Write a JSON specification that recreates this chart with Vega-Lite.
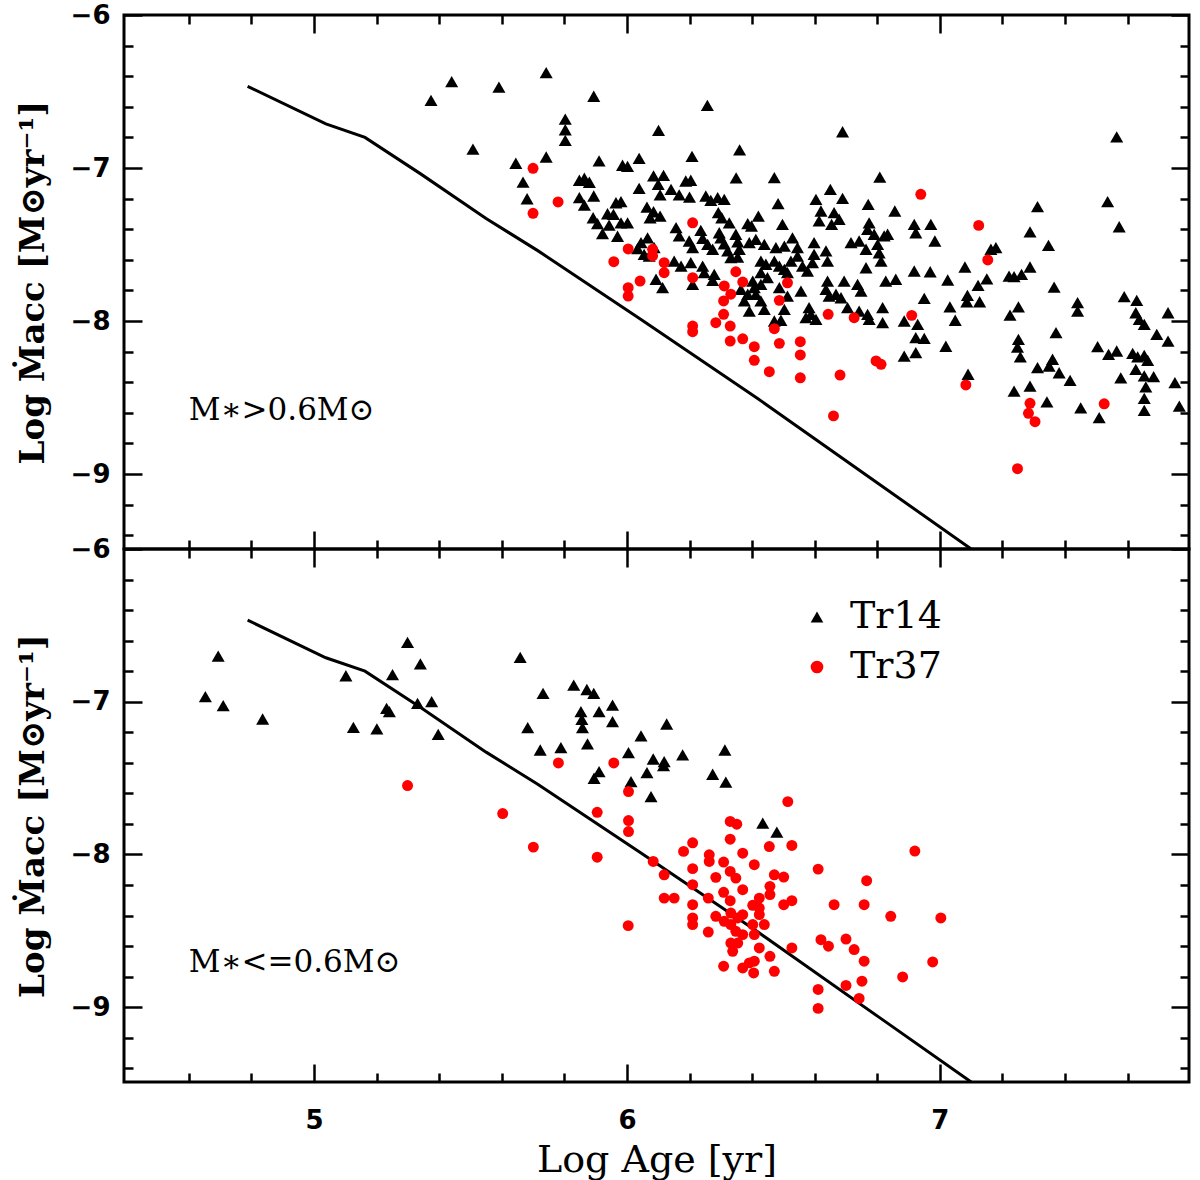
{
  "$schema": "https://vega.github.io/schema/vega-lite/v6.json",
  "background": "white",
  "padding": {"left": 14, "top": 0, "right": 10, "bottom": 5},
  "bounds": "flush",
  "spacing": 0,
  "datasets": {
    "track": [
      {"age": 4.788, "mdot": -6.466}, {"age": 5.038, "mdot": -6.712}, {"age": 5.163, "mdot": -6.8},
      {"age": 5.342, "mdot": -7.04}, {"age": 5.55, "mdot": -7.33}, {"age": 5.715, "mdot": -7.54},
      {"age": 6.045, "mdot": -7.99}, {"age": 6.42, "mdot": -8.51}, {"age": 6.812, "mdot": -9.075},
      {"age": 7.1, "mdot": -9.49}
    ],
    "hiNote": [{"age": 4.6, "mdot": -8.59, "note": "M∗>0.6M⊙"}],
    "loNote": [{"age": 4.6, "mdot": -8.71, "note": "M∗<=0.6M⊙"}],
    "hi14": [
      {"age":5.374,"mdot":-6.558},{"age":5.44,"mdot":-6.436},{"age":5.591,"mdot":-6.471},{"age":5.742,"mdot":-6.377},
      {"age":5.894,"mdot":-6.531},{"age":5.508,"mdot":-6.876},{"age":5.803,"mdot":-6.68},{"age":5.803,"mdot":-6.75},
      {"age":5.803,"mdot":-6.819},{"age":5.645,"mdot":-6.969},{"age":5.742,"mdot":-6.928},{"age":5.911,"mdot":-6.954},
      {"age":5.986,"mdot":-6.982},{"age":6.002,"mdot":-6.989},{"age":6.039,"mdot":-6.937},{"age":5.668,"mdot":-7.092},
      {"age":5.681,"mdot":-7.201},{"age":5.848,"mdot":-7.08},{"age":5.864,"mdot":-7.067},{"age":5.88,"mdot":-7.093},
      {"age":5.848,"mdot":-7.194},{"age":5.864,"mdot":-7.242},{"age":5.894,"mdot":-7.183},{"age":5.965,"mdot":-7.227},
      {"age":5.981,"mdot":-7.22},{"age":5.892,"mdot":-7.325},{"age":5.906,"mdot":-7.364},{"age":5.938,"mdot":-7.299},
      {"age":5.957,"mdot":-7.303},{"age":5.943,"mdot":-7.373},{"age":5.981,"mdot":-7.358},{"age":6.002,"mdot":-7.358},
      {"age":5.922,"mdot":-7.429},{"age":5.97,"mdot":-7.446},{"age":6.039,"mdot":-7.133},{"age":6.034,"mdot":-7.527},
      {"age":6.257,"mdot":-6.59},{"age":6.101,"mdot":-6.754},{"age":6.689,"mdot":-6.763},{"age":6.208,"mdot":-6.924},
      {"age":6.36,"mdot":-6.882},{"age":6.349,"mdot":-7.065},{"age":6.471,"mdot":-7.063},{"age":6.808,"mdot":-7.059},
      {"age":6.085,"mdot":-7.052},{"age":6.117,"mdot":-7.048},{"age":6.1,"mdot":-7.107},{"age":6.188,"mdot":-7.085},
      {"age":6.204,"mdot":-7.08},{"age":6.141,"mdot":-7.139},{"age":6.106,"mdot":-7.176},{"age":6.167,"mdot":-7.176},
      {"age":6.2,"mdot":-7.19},{"age":6.252,"mdot":-7.183},{"age":6.268,"mdot":-7.211},{"age":6.29,"mdot":-7.194},
      {"age":6.311,"mdot":-7.205},{"age":6.064,"mdot":-7.255},{"age":6.085,"mdot":-7.286},{"age":6.106,"mdot":-7.314},
      {"age":6.074,"mdot":-7.325},{"age":6.292,"mdot":-7.292},{"age":6.303,"mdot":-7.325},{"age":6.327,"mdot":-7.358},
      {"age":6.483,"mdot":-7.233},{"age":6.42,"mdot":-7.314},{"age":6.386,"mdot":-7.364},{"age":6.398,"mdot":-7.379},
      {"age":6.497,"mdot":-7.368},{"age":6.604,"mdot":-7.205},{"age":6.65,"mdot":-7.139},{"age":6.689,"mdot":-7.198},
      {"age":6.771,"mdot":-7.237},{"age":6.856,"mdot":-7.281},{"age":6.62,"mdot":-7.281},{"age":6.662,"mdot":-7.292},
      {"age":6.678,"mdot":-7.335},{"age":6.654,"mdot":-7.368},{"age":6.614,"mdot":-7.346},{"age":6.774,"mdot":-7.358},
      {"age":6.769,"mdot":-7.401},{"age":6.79,"mdot":-7.433},{"age":6.822,"mdot":-7.444},{"age":6.833,"mdot":-7.433},
      {"age":6.918,"mdot":-7.368},{"age":6.923,"mdot":-7.423},{"age":6.157,"mdot":-7.39},{"age":6.167,"mdot":-7.444},
      {"age":6.199,"mdot":-7.477},{"age":6.21,"mdot":-7.521},{"age":6.236,"mdot":-7.407},{"age":6.242,"mdot":-7.459},
      {"age":6.258,"mdot":-7.499},{"age":6.274,"mdot":-7.531},{"age":6.295,"mdot":-7.423},{"age":6.3,"mdot":-7.456},
      {"age":6.311,"mdot":-7.495},{"age":6.322,"mdot":-7.542},{"age":6.332,"mdot":-7.586},{"age":6.348,"mdot":-7.433},
      {"age":6.354,"mdot":-7.482},{"age":6.359,"mdot":-7.531},{"age":6.354,"mdot":-7.582},{"age":6.391,"mdot":-7.488},
      {"age":6.412,"mdot":-7.466},{"age":6.439,"mdot":-7.499},{"age":6.476,"mdot":-7.521},{"age":6.503,"mdot":-7.51},
      {"age":6.529,"mdot":-7.456},{"age":6.545,"mdot":-7.521},{"age":6.598,"mdot":-7.488},{"age":6.636,"mdot":-7.542},
      {"age":6.641,"mdot":-7.608},{"age":6.598,"mdot":-7.564},{"age":6.716,"mdot":-7.488},{"age":6.742,"mdot":-7.477},
      {"age":6.764,"mdot":-7.531},{"age":6.801,"mdot":-7.499},{"age":6.812,"mdot":-7.608},{"age":6.806,"mdot":-7.554},
      {"age":6.764,"mdot":-7.652},{"age":6.918,"mdot":-7.673},{"age":6.045,"mdot":-7.488},{"age":6.066,"mdot":-7.456},
      {"age":6.087,"mdot":-7.521},{"age":6.071,"mdot":-7.575},{"age":6.055,"mdot":-7.564},{"age":6.151,"mdot":-7.608},
      {"age":6.173,"mdot":-7.641},{"age":6.204,"mdot":-7.619},{"age":6.242,"mdot":-7.641},{"age":6.247,"mdot":-7.684},
      {"age":6.279,"mdot":-7.695},{"age":6.274,"mdot":-7.734},{"age":6.428,"mdot":-7.608},{"age":6.444,"mdot":-7.629},
      {"age":6.471,"mdot":-7.608},{"age":6.487,"mdot":-7.641},{"age":6.503,"mdot":-7.662},{"age":6.513,"mdot":-7.684},
      {"age":6.524,"mdot":-7.608},{"age":6.545,"mdot":-7.575},{"age":6.561,"mdot":-7.641},{"age":6.577,"mdot":-7.673},
      {"age":6.593,"mdot":-7.619},{"age":6.428,"mdot":-7.684},{"age":6.449,"mdot":-7.717},{"age":6.428,"mdot":-7.76},
      {"age":6.402,"mdot":-7.739},{"age":6.407,"mdot":-7.782},{"age":6.412,"mdot":-7.825},{"age":6.386,"mdot":-7.825},
      {"age":6.364,"mdot":-7.793},{"age":6.375,"mdot":-7.869},{"age":6.391,"mdot":-7.935},{"age":6.428,"mdot":-7.869},
      {"age":6.439,"mdot":-7.924},{"age":6.487,"mdot":-7.782},{"age":6.513,"mdot":-7.837},{"age":6.503,"mdot":-7.924},
      {"age":6.556,"mdot":-7.804},{"age":6.582,"mdot":-7.913},{"age":6.588,"mdot":-7.956},{"age":6.572,"mdot":-7.978},
      {"age":6.604,"mdot":-7.989},{"age":6.641,"mdot":-7.739},{"age":6.636,"mdot":-7.793},{"age":6.646,"mdot":-7.837},
      {"age":6.668,"mdot":-7.825},{"age":6.684,"mdot":-7.848},{"age":6.694,"mdot":-7.739},{"age":6.705,"mdot":-7.913},
      {"age":6.737,"mdot":-7.76},{"age":6.748,"mdot":-7.804},{"age":6.742,"mdot":-7.935},{"age":6.769,"mdot":-7.956},
      {"age":6.774,"mdot":-7.989},{"age":6.817,"mdot":-7.913},{"age":6.817,"mdot":-8.011},{"age":6.827,"mdot":-7.739},
      {"age":6.859,"mdot":-7.727},{"age":6.929,"mdot":-8.022},{"age":6.923,"mdot":-8.109},{"age":6.923,"mdot":-8.207},
      {"age":6.886,"mdot":-8.229},{"age":6.093,"mdot":-7.727},{"age":6.114,"mdot":-7.782},{"age":6.21,"mdot":-7.76},
      {"age":6.471,"mdot":-8.0},{"age":6.492,"mdot":-7.995},{"age":7.565,"mdot":-6.797},{"age":7.312,"mdot":-7.253},
      {"age":7.536,"mdot":-7.22},{"age":7.573,"mdot":-7.384},{"age":6.971,"mdot":-7.368},{"age":6.984,"mdot":-7.477},
      {"age":7.288,"mdot":-7.418},{"age":7.347,"mdot":-7.505},{"age":7.163,"mdot":-7.531},{"age":7.179,"mdot":-7.521},
      {"age":6.969,"mdot":-7.678},{"age":7.025,"mdot":-7.732},{"age":7.08,"mdot":-7.647},{"age":7.15,"mdot":-7.724},
      {"age":7.122,"mdot":-7.767},{"age":7.221,"mdot":-7.706},{"age":7.237,"mdot":-7.71},{"age":7.261,"mdot":-7.695},
      {"age":7.288,"mdot":-7.647},{"age":7.365,"mdot":-7.778},{"age":7.44,"mdot":-7.88},{"age":7.44,"mdot":-7.935},
      {"age":6.95,"mdot":-7.852},{"age":7.088,"mdot":-7.832},{"age":7.086,"mdot":-7.874},{"age":7.127,"mdot":-7.874},
      {"age":7.032,"mdot":-7.908},{"age":6.886,"mdot":-8.0},{"age":7.049,"mdot":-7.995},{"age":7.251,"mdot":-7.908},
      {"age":7.224,"mdot":-7.961},{"age":7.371,"mdot":-8.076},{"age":7.251,"mdot":-8.12},{"age":7.248,"mdot":-8.17},
      {"age":7.257,"mdot":-8.235},{"age":6.95,"mdot":-8.113},{"age":7.019,"mdot":-8.165},{"age":7.09,"mdot":-8.348},
      {"age":7.36,"mdot":-8.25},{"age":7.349,"mdot":-8.294},{"age":7.381,"mdot":-8.338},{"age":7.312,"mdot":-8.305},
      {"age":7.416,"mdot":-8.388},{"age":7.237,"mdot":-8.458},{"age":7.288,"mdot":-8.425},{"age":7.342,"mdot":-8.529},
      {"age":7.45,"mdot":-8.567},{"age":7.509,"mdot":-8.632},{"age":7.589,"mdot":-7.841},{"age":7.629,"mdot":-7.865},
      {"age":7.729,"mdot":-7.946},{"age":7.626,"mdot":-7.946},{"age":7.637,"mdot":-7.989},{"age":7.653,"mdot":-8.022},
      {"age":7.693,"mdot":-8.087},{"age":7.729,"mdot":-8.131},{"age":7.504,"mdot":-8.168},{"age":7.539,"mdot":-8.218},
      {"age":7.565,"mdot":-8.196},{"age":7.616,"mdot":-8.211},{"age":7.632,"mdot":-8.235},{"age":7.653,"mdot":-8.224},
      {"age":7.664,"mdot":-8.257},{"age":7.578,"mdot":-8.371},{"age":7.626,"mdot":-8.316},{"age":7.653,"mdot":-8.359},
      {"age":7.683,"mdot":-8.364},{"age":7.658,"mdot":-8.431},{"age":7.653,"mdot":-8.505},{"age":7.653,"mdot":-8.584},
      {"age":7.751,"mdot":-8.403},{"age":7.765,"mdot":-8.556}
    ],
    "hi37": [
      {"age":5.7,"mdot":-7.002},{"age":5.78,"mdot":-7.222},{"age":5.7,"mdot":-7.296},{"age":6.004,"mdot":-7.529},
      {"age":5.958,"mdot":-7.612},{"age":6.004,"mdot":-7.782},{"age":6.004,"mdot":-7.837},{"age":6.042,"mdot":-7.739},
      {"age":6.21,"mdot":-7.358},{"age":6.082,"mdot":-7.531},{"age":6.082,"mdot":-7.575},{"age":6.119,"mdot":-7.619},
      {"age":6.119,"mdot":-7.684},{"age":6.21,"mdot":-7.717},{"age":6.348,"mdot":-7.678},{"age":6.37,"mdot":-7.745},
      {"age":6.311,"mdot":-7.771},{"age":6.332,"mdot":-7.825},{"age":6.309,"mdot":-7.869},{"age":6.513,"mdot":-7.75},
      {"age":6.487,"mdot":-7.865},{"age":6.309,"mdot":-7.956},{"age":6.284,"mdot":-8.011},{"age":6.33,"mdot":-8.033},
      {"age":6.21,"mdot":-8.033},{"age":6.21,"mdot":-8.07},{"age":6.33,"mdot":-8.131},{"age":6.37,"mdot":-8.116},
      {"age":6.407,"mdot":-8.168},{"age":6.407,"mdot":-8.257},{"age":6.471,"mdot":-8.05},{"age":6.487,"mdot":-8.146},
      {"age":6.554,"mdot":-8.135},{"age":6.554,"mdot":-8.222},{"age":6.455,"mdot":-8.331},{"age":6.554,"mdot":-8.371},
      {"age":6.643,"mdot":-7.956},{"age":6.726,"mdot":-7.978},{"age":6.681,"mdot":-8.353},{"age":6.796,"mdot":-8.261},
      {"age":6.812,"mdot":-8.283},{"age":6.91,"mdot":-7.963},{"age":6.939,"mdot":-7.172},{"age":7.124,"mdot":-7.375},
      {"age":7.153,"mdot":-7.601},{"age":7.083,"mdot":-8.418},{"age":7.288,"mdot":-8.538},{"age":7.283,"mdot":-8.603},
      {"age":7.304,"mdot":-8.658},{"age":7.525,"mdot":-8.541},{"age":7.248,"mdot":-8.965},{"age":6.66,"mdot":-8.62}
    ],
    "lo14": [
      {"age":4.694,"mdot":-6.701},{"age":4.653,"mdot":-6.967},{"age":4.71,"mdot":-7.026},{"age":4.836,"mdot":-7.113},
      {"age":5.102,"mdot":-6.83},{"age":5.126,"mdot":-7.168},{"age":5.201,"mdot":-7.178},{"age":5.251,"mdot":-6.822},
      {"age":5.299,"mdot":-6.612},{"age":5.34,"mdot":-6.752},{"age":5.232,"mdot":-7.044},{"age":5.241,"mdot":-7.065},
      {"age":5.331,"mdot":-7.011},{"age":5.376,"mdot":-7.0},{"age":5.397,"mdot":-7.214},{"age":5.659,"mdot":-6.71},
      {"age":5.732,"mdot":-6.946},{"age":5.83,"mdot":-6.891},{"age":5.872,"mdot":-6.92},{"age":5.894,"mdot":-6.946},
      {"age":5.853,"mdot":-7.065},{"age":5.856,"mdot":-7.116},{"age":5.858,"mdot":-7.17},{"age":5.911,"mdot":-7.065},
      {"age":5.954,"mdot":-7.022},{"age":5.954,"mdot":-7.131},{"age":5.683,"mdot":-7.17},{"age":5.723,"mdot":-7.316},
      {"age":5.789,"mdot":-7.301},{"age":5.874,"mdot":-7.276},{"age":6.045,"mdot":-7.224},{"age":6.127,"mdot":-7.146},
      {"age":6.005,"mdot":-7.333},{"age":5.911,"mdot":-7.458},{"age":5.895,"mdot":-7.501},{"age":6.013,"mdot":-7.523},
      {"age":6.084,"mdot":-7.375},{"age":6.119,"mdot":-7.392},{"age":6.117,"mdot":-7.418},{"age":6.064,"mdot":-7.464},
      {"age":6.178,"mdot":-7.348},{"age":6.077,"mdot":-7.621},{"age":6.313,"mdot":-7.316},{"age":6.274,"mdot":-7.475},
      {"age":6.316,"mdot":-7.527},{"age":6.434,"mdot":-7.795},{"age":6.479,"mdot":-7.854}
    ],
    "lo37": [
      {"age":5.299,"mdot":-7.549},{"age":5.781,"mdot":-7.401},{"age":5.958,"mdot":-7.401},{"age":6.005,"mdot":-7.588},
      {"age":5.603,"mdot":-7.732},{"age":5.905,"mdot":-7.724},{"age":6.005,"mdot":-7.778},{"age":6.005,"mdot":-7.85},
      {"age":5.701,"mdot":-7.952},{"age":5.905,"mdot":-8.018},{"age":6.084,"mdot":-8.046},{"age":6.119,"mdot":-8.133},
      {"age":6.33,"mdot":-7.784},{"age":6.351,"mdot":-7.802},{"age":6.33,"mdot":-7.9},{"age":6.21,"mdot":-7.924},
      {"age":6.181,"mdot":-7.98},{"age":6.263,"mdot":-8.002},{"age":6.263,"mdot":-8.046},{"age":6.309,"mdot":-8.05},
      {"age":6.37,"mdot":-7.992},{"age":6.407,"mdot":-8.067},{"age":6.455,"mdot":-7.948},{"age":6.21,"mdot":-8.093},
      {"age":6.284,"mdot":-8.15},{"age":6.33,"mdot":-8.111},{"age":6.348,"mdot":-8.155},{"age":6.471,"mdot":-8.133},
      {"age":6.514,"mdot":-7.654},{"age":6.527,"mdot":-7.941},{"age":6.37,"mdot":-8.231},{"age":6.309,"mdot":-8.248},
      {"age":6.21,"mdot":-8.198},{"age":6.119,"mdot":-8.286},{"age":6.151,"mdot":-8.286},{"age":6.21,"mdot":-8.329},
      {"age":6.26,"mdot":-8.286},{"age":6.33,"mdot":-8.303},{"age":6.423,"mdot":-8.286},{"age":6.402,"mdot":-8.333},
      {"age":6.457,"mdot":-8.209},{"age":6.457,"mdot":-8.263},{"age":6.501,"mdot":-8.148},{"age":6.501,"mdot":-8.329},
      {"age":6.527,"mdot":-8.303},{"age":6.611,"mdot":-8.096},{"age":6.766,"mdot":-8.172},{"age":6.92,"mdot":-7.978},
      {"age":6.004,"mdot":-8.466},{"age":6.21,"mdot":-8.416},{"age":6.21,"mdot":-8.459},{"age":6.26,"mdot":-8.508},
      {"age":6.284,"mdot":-8.405},{"age":6.311,"mdot":-8.438},{"age":6.332,"mdot":-8.384},{"age":6.354,"mdot":-8.416},
      {"age":6.37,"mdot":-8.394},{"age":6.332,"mdot":-8.459},{"age":6.348,"mdot":-8.503},{"age":6.37,"mdot":-8.525},
      {"age":6.354,"mdot":-8.58},{"age":6.332,"mdot":-8.58},{"age":6.338,"mdot":-8.634},{"age":6.402,"mdot":-8.459},
      {"age":6.407,"mdot":-8.525},{"age":6.423,"mdot":-8.394},{"age":6.423,"mdot":-8.351},{"age":6.439,"mdot":-8.459},
      {"age":6.423,"mdot":-8.612},{"age":6.457,"mdot":-8.667},{"age":6.309,"mdot":-8.732},{"age":6.37,"mdot":-8.743},
      {"age":6.391,"mdot":-8.71},{"age":6.407,"mdot":-8.699},{"age":6.405,"mdot":-8.776},{"age":6.471,"mdot":-8.765},
      {"age":6.527,"mdot":-8.612},{"age":6.662,"mdot":-8.329},{"age":6.758,"mdot":-8.329},{"age":6.843,"mdot":-8.405},
      {"age":7.003,"mdot":-8.416},{"age":6.62,"mdot":-8.558},{"age":6.644,"mdot":-8.601},{"age":6.7,"mdot":-8.554},
      {"age":6.726,"mdot":-8.623},{"age":6.758,"mdot":-8.699},{"age":6.977,"mdot":-8.704},{"age":6.881,"mdot":-8.802},
      {"age":6.611,"mdot":-8.884},{"age":6.611,"mdot":-9.008},{"age":6.7,"mdot":-8.858},{"age":6.751,"mdot":-8.83},
      {"age":6.742,"mdot":-8.943}
    ]
  },
  "vconcat": [
    {
      "width": 1065,
      "height": 534,
      "resolve": {"axis": {"x": "independent", "y": "independent"}},
      "layer": [
        {
          "data": {"name": "track"},
          "mark": {"type": "line", "color": "black", "strokeWidth": 3, "clip": true},
          "encoding": {
            "x": {"field": "age", "type": "quantitative", "scale": {"domain": [4.393, 7.796], "nice": false, "zero": false},
              "axis": {"orient": "bottom", "values": [5, 6, 7], "tickSize": 18, "offset": -18, "labels": false, "title": null}},
            "y": {"field": "mdot", "type": "quantitative", "scale": {"domain": [-9.49, -6], "nice": false, "zero": false},
              "axis": {"orient": "left", "values": [-6, -7, -8, -9], "format": "d", "tickSize": 18, "offset": -18, "labelPadding": 14, "title": "Log Ṁacc [M⊙yr⁻¹]", "titlePadding": 20}}
          }
        },
        {
          "data": {"name": "hi14"},
          "mark": {"type": "point", "filled": true, "size": 170, "opacity": 1},
          "encoding": {
            "x": {"field": "age", "type": "quantitative", "axis": {"orient": "bottom", "values": [4.6, 4.8, 5.2, 5.4, 5.6, 5.8, 6.2, 6.4, 6.6, 6.8, 7.2, 7.4, 7.6], "tickSize": 9, "offset": -9, "labels": false, "title": null}},
            "y": {"field": "mdot", "type": "quantitative", "axis": {"orient": "left", "values": [-6.2, -6.4, -6.6, -6.8, -7.2, -7.4, -7.6, -7.8, -8.2, -8.4, -8.6, -8.8, -9.2, -9.4], "tickSize": 9, "offset": -9, "labels": false, "title": null}},
            "shape": {"datum": "Tr14", "type": "nominal", "scale": {"domain": ["Tr14", "Tr37"], "range": ["triangle-up", "circle"]}, "legend": null},
            "color": {"datum": "Tr14", "type": "nominal", "scale": {"domain": ["Tr14", "Tr37"], "range": ["black", "#ff0000"]}, "legend": null}
          }
        },
        {
          "data": {"name": "hi37"},
          "mark": {"type": "point", "filled": true, "size": 120, "opacity": 1},
          "encoding": {
            "x": {"field": "age", "type": "quantitative", "axis": {"orient": "top", "values": [5, 6, 7], "tickSize": 18, "offset": -18, "labels": false, "title": null}},
            "y": {"field": "mdot", "type": "quantitative", "axis": {"orient": "right", "values": [-6, -7, -8, -9], "tickSize": 18, "offset": -18, "labels": false, "title": null}},
            "shape": {"datum": "Tr37", "type": "nominal", "scale": {"domain": ["Tr14", "Tr37"], "range": ["triangle-up", "circle"]}, "legend": null},
            "color": {"datum": "Tr37", "type": "nominal", "scale": {"domain": ["Tr14", "Tr37"], "range": ["black", "#ff0000"]}, "legend": null}
          }
        },
        {
          "data": {"name": "hiNote"},
          "mark": {"type": "text", "align": "left", "baseline": "middle", "font": "DejaVu Serif", "fontSize": 31, "color": "black"},
          "encoding": {
            "x": {"field": "age", "type": "quantitative", "axis": {"orient": "top", "values": [4.6, 4.8, 5.2, 5.4, 5.6, 5.8, 6.2, 6.4, 6.6, 6.8, 7.2, 7.4, 7.6], "tickSize": 9, "offset": -9, "labels": false, "title": null}},
            "y": {"field": "mdot", "type": "quantitative", "axis": {"orient": "right", "values": [-6.2, -6.4, -6.6, -6.8, -7.2, -7.4, -7.6, -7.8, -8.2, -8.4, -8.6, -8.8, -9.2, -9.4], "tickSize": 9, "offset": -9, "labels": false, "title": null}},
            "text": {"field": "note"}
          }
        }
      ]
    },
    {
      "width": 1065,
      "height": 533,
      "resolve": {"axis": {"x": "independent", "y": "independent"}},
      "layer": [
        {
          "data": {"name": "track"},
          "mark": {"type": "line", "color": "black", "strokeWidth": 3, "clip": true},
          "encoding": {
            "x": {"field": "age", "type": "quantitative", "scale": {"domain": [4.393, 7.796], "nice": false, "zero": false},
              "axis": {"orient": "bottom", "values": [5, 6, 7], "format": "d", "tickSize": 18, "offset": -18, "labelPadding": 25, "title": "Log Age [yr]", "titlePadding": 8, "titleFontWeight": "normal", "titleFontSize": 38}},
            "y": {"field": "mdot", "type": "quantitative", "scale": {"domain": [-9.49, -6], "nice": false, "zero": false},
              "axis": {"orient": "left", "values": [-6, -7, -8, -9], "format": "d", "tickSize": 18, "offset": -18, "labelPadding": 14, "title": "Log Ṁacc [M⊙yr⁻¹]", "titlePadding": 20}}
          }
        },
        {
          "data": {"name": "lo14"},
          "mark": {"type": "point", "filled": true, "size": 170, "opacity": 1},
          "encoding": {
            "x": {"field": "age", "type": "quantitative", "axis": {"orient": "bottom", "values": [4.6, 4.8, 5.2, 5.4, 5.6, 5.8, 6.2, 6.4, 6.6, 6.8, 7.2, 7.4, 7.6], "tickSize": 9, "offset": -9, "labels": false, "title": null}},
            "y": {"field": "mdot", "type": "quantitative", "axis": {"orient": "left", "values": [-6.2, -6.4, -6.6, -6.8, -7.2, -7.4, -7.6, -7.8, -8.2, -8.4, -8.6, -8.8, -9.2, -9.4], "tickSize": 9, "offset": -9, "labels": false, "title": null}},
            "shape": {"datum": "Tr14", "type": "nominal", "scale": {"domain": ["Tr14", "Tr37"], "range": ["triangle-up", "circle"]}},
            "color": {"datum": "Tr14", "type": "nominal", "scale": {"domain": ["Tr14", "Tr37"], "range": ["black", "#ff0000"]}}
          }
        },
        {
          "data": {"name": "lo37"},
          "mark": {"type": "point", "filled": true, "size": 120, "opacity": 1},
          "encoding": {
            "x": {"field": "age", "type": "quantitative", "axis": {"orient": "top", "values": [5, 6, 7], "tickSize": 18, "offset": -18, "labels": false, "title": null}},
            "y": {"field": "mdot", "type": "quantitative", "axis": {"orient": "right", "values": [-6, -7, -8, -9], "tickSize": 18, "offset": -18, "labels": false, "title": null}},
            "shape": {"datum": "Tr37", "type": "nominal", "scale": {"domain": ["Tr14", "Tr37"], "range": ["triangle-up", "circle"]}},
            "color": {"datum": "Tr37", "type": "nominal", "scale": {"domain": ["Tr14", "Tr37"], "range": ["black", "#ff0000"]}}
          }
        },
        {
          "data": {"name": "loNote"},
          "mark": {"type": "text", "align": "left", "baseline": "middle", "font": "DejaVu Serif", "fontSize": 31, "color": "black"},
          "encoding": {
            "x": {"field": "age", "type": "quantitative", "axis": {"orient": "top", "values": [4.6, 4.8, 5.2, 5.4, 5.6, 5.8, 6.2, 6.4, 6.6, 6.8, 7.2, 7.4, 7.6], "tickSize": 9, "offset": -9, "labels": false, "title": null}},
            "y": {"field": "mdot", "type": "quantitative", "axis": {"orient": "right", "values": [-6.2, -6.4, -6.6, -6.8, -7.2, -7.4, -7.6, -7.8, -8.2, -8.4, -8.6, -8.8, -9.2, -9.4], "tickSize": 9, "offset": -9, "labels": false, "title": null}},
            "text": {"field": "note"}
          }
        }
      ]
    }
  ],
  "resolve": {"scale": {"color": "independent", "shape": "independent"}},
  "config": {
    "view": {"stroke": "black", "strokeWidth": 3},
    "axis": {
      "domain": false,
      "grid": false,
      "tickColor": "black",
      "tickWidth": 2.5,
      "labelColor": "black",
      "labelFont": "DejaVu Sans",
      "labelFontWeight": "bold",
      "labelFontSize": 26,
      "labelFlush": false,
      "labelOverlap": false,
      "titleColor": "black",
      "titleFont": "DejaVu Serif",
      "titleFontWeight": "bold",
      "titleFontSize": 34
    },
    "legend": {
      "orient": "none",
      "legendX": 674,
      "legendY": 49,
      "title": null,
      "labelFont": "DejaVu Serif",
      "labelFontSize": 38,
      "labelColor": "black",
      "labelOffset": 14,
      "symbolSize": 160,
      "rowPadding": 12
    }
  }
}
